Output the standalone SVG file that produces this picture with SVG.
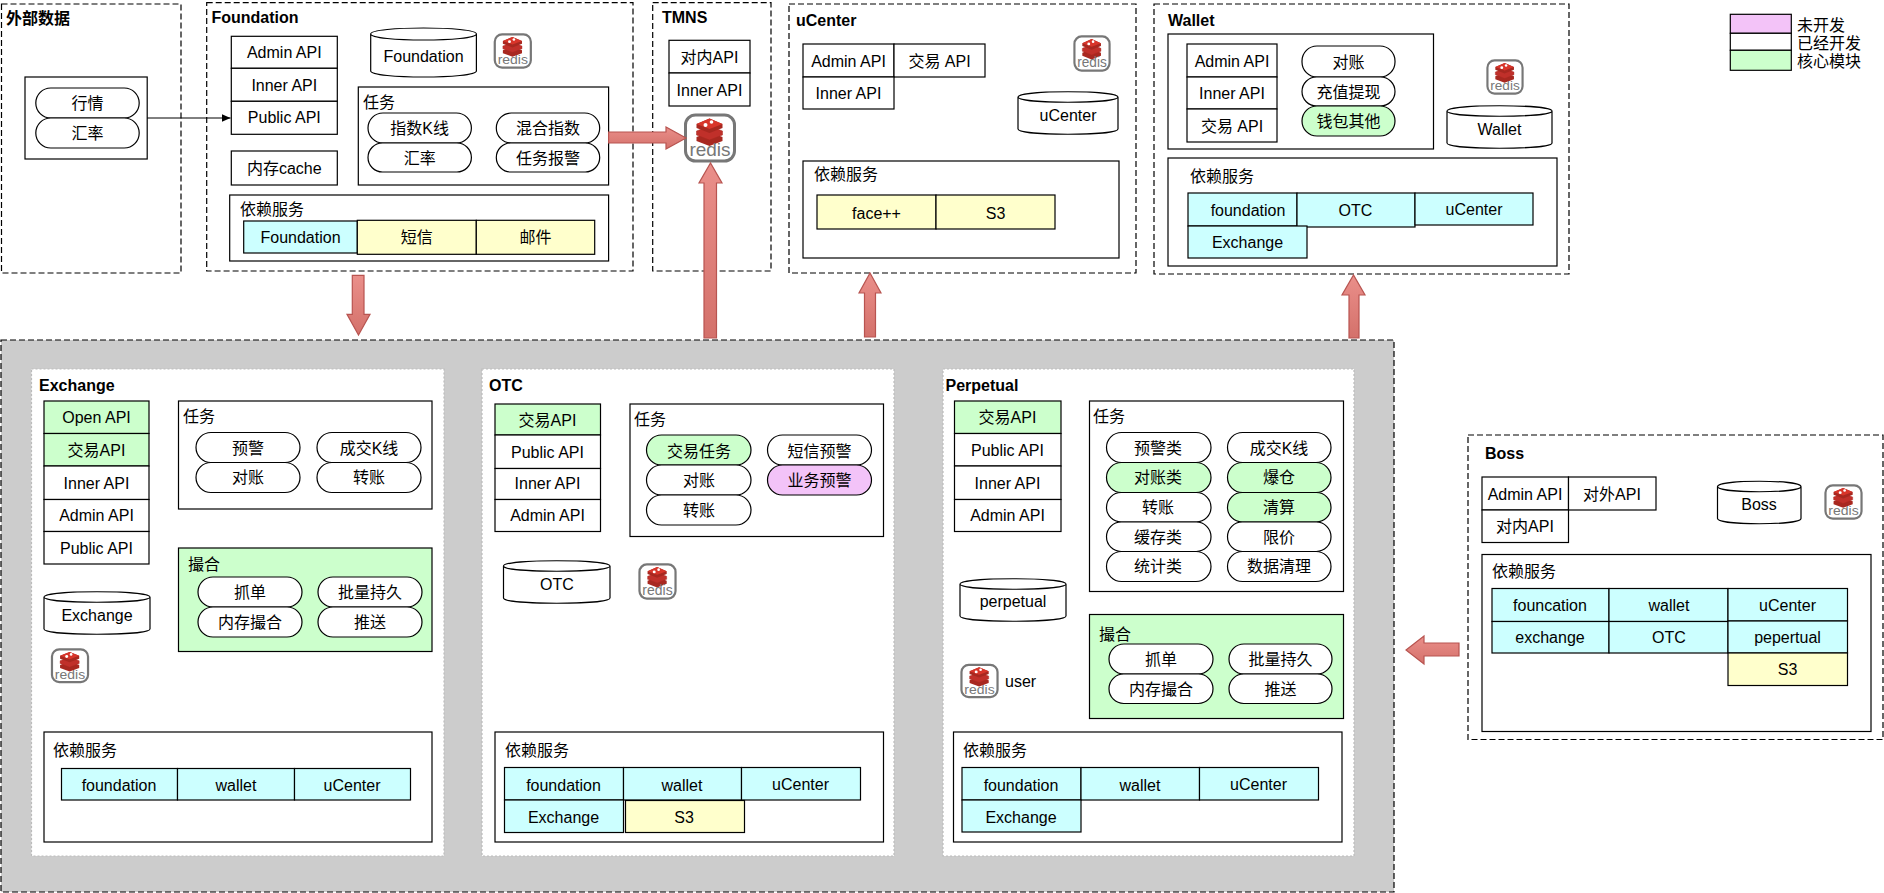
<svg xmlns="http://www.w3.org/2000/svg" xmlns:xlink="http://www.w3.org/1999/xlink" width="1884" height="893" viewBox="0 0 1884 893">
<style>
text{font-family:"Liberation Sans","Noto Sans CJK SC",sans-serif;font-size:16px;fill:#000;dominant-baseline:central}
.m{text-anchor:middle}
.h{font-weight:bold}
rect,.db{stroke:#000;stroke-width:1.2;fill:#fff}
.g{fill:#ccffcc}.c{fill:#ccffff}.y{fill:#ffffcc}.p{fill:#f3c3f8}
.d{stroke-dasharray:6 3;fill:#fff}
.gray{fill:#ccc}
.panel{fill:#fff;stroke:#bbb;stroke-dasharray:2 2}
.arrow{fill:url(#ag);stroke:#b85450;stroke-width:1.2}
.thin{fill:none;stroke:#000;stroke-width:1;marker-end:url(#tri)}
.rt{font-size:19px;fill:#777;dominant-baseline:auto;text-anchor:middle}
.ri{fill:#fff;stroke:#777;stroke-width:3}
</style>
<defs>
<linearGradient id="ag" x1="0" y1="0" x2="0" y2="1"><stop offset="0" stop-color="#ea8f8a"/><stop offset="1" stop-color="#d4716b"/></linearGradient>
<marker id="tri" markerWidth="10" markerHeight="10" refX="9" refY="4" orient="auto" markerUnits="userSpaceOnUse"><path d="M0 0L9 4L0 8z" fill="#000"/></marker>
<g id="redis-art">
<rect class="ri" x="2" y="2" width="49" height="46" rx="10"/>
<path d="M13 24l13-5 13 5v4l-13 5-13-5z" fill="#a82820" stroke="none"/>
<path d="M13 18l13-5 13 5v4l-13 5-13-5z" fill="#c0302a" stroke="#a82820" stroke-width=".5"/>
<path d="M13 11l13-5.500 13 5.500v4l-13 5-13-5z" fill="#a82820" stroke="none"/>
<path d="M13 11l13-5.500 13 5.500-13 5z" fill="#d8352a" stroke="none"/>
<circle cx="28" cy="9" r="1.800" fill="#fff"/><circle cx="22" cy="12" r="2" fill="#fff"/>
</g>
</defs>

<g id="bg-external"><rect class="d" x="1.500" y="4" width="179.500" height="269"/><text class="h" x="6" y="18">外部数据</text></g>
<g id="external-inner"><rect x="25" y="77" width="122.200" height="82"/></g>
<g id="ext-market"><rect x="35.800" y="88" width="103.400" height="30" rx="15"/><text class="m" x="87.500" y="103">行情</text></g>
<g id="ext-rate"><rect x="35.800" y="118" width="103.400" height="30" rx="15"/><text class="m" x="87.500" y="133">汇率</text></g>

<g id="foundation"><rect class="d" x="206.700" y="2.700" width="426.300" height="268.300"/><text class="h" x="211.500" y="17.500">Foundation</text></g>
<g id="f-admin"><rect x="231.300" y="36.300" width="106" height="32"/><text class="m" x="284.300" y="52">Admin API</text></g>
<g id="f-inner"><rect x="231.300" y="68.300" width="106" height="33"/><text class="m" x="284.300" y="85">Inner API</text></g>
<g id="f-public"><rect x="231.300" y="101.300" width="106" height="33"/><text class="m" x="284.300" y="117">Public API</text></g>
<g id="f-db"><path class="db" d="M370.700 34c0-8 105.700-8 105.700 0v37c0 8-105.700 8-105.700 0zM370.700 34c0 8 105.700 8 105.700 0"/><text class="m" x="423.500" y="56">Foundation</text></g>
<g id="f-redis" transform="translate(493.300 33) scale(.736 .72)"><use href="#redis-art"/><text class="rt" x="26.500" y="43">redis</text></g>
<g id="f-tasks"><rect x="358.300" y="87" width="250.300" height="98"/><text x="363" y="102">任务</text></g>
<g id="f-t1"><rect x="368" y="113" width="103.400" height="30" rx="15"/><text class="m" x="419.700" y="128">指数K线</text></g>
<g id="f-t2"><rect x="368" y="143" width="103.400" height="29" rx="14.500"/><text class="m" x="419.700" y="158">汇率</text></g>
<g id="f-t3"><rect x="496.300" y="113" width="103.400" height="30" rx="15"/><text class="m" x="548" y="128">混合指数</text></g>
<g id="f-t4"><rect x="496.300" y="143" width="103.400" height="29" rx="14.500"/><text class="m" x="548" y="158">任务报警</text></g>
<g id="f-cache"><rect x="231.300" y="151" width="106" height="34"/><text class="m" x="284.300" y="168">内存cache</text></g>
<g id="f-dep"><rect x="229.700" y="195" width="378.900" height="66"/><text x="240" y="209">依赖服务</text></g>
<g id="f-dep1"><rect class="c" x="243.700" y="221" width="113.600" height="32"/><text class="m" x="300.500" y="237">Foundation</text></g>
<g id="f-dep2"><rect class="y" x="357.300" y="220.300" width="119" height="34"/><text class="m" x="416.800" y="237">短信</text></g>
<g id="f-dep3"><rect class="y" x="476.300" y="220.300" width="118.400" height="34"/><text class="m" x="535.500" y="237">邮件</text></g>

<g id="tmns"><rect class="d" x="652.700" y="2.700" width="118.300" height="268.300"/><text class="h" x="662" y="17.500">TMNS</text></g>
<g id="t-inner-cn"><rect x="669" y="40.300" width="81" height="32.700"/><text class="m" x="709.500" y="57">对内API</text></g>
<g id="t-inner"><rect x="669" y="73" width="81" height="33"/><text class="m" x="709.500" y="90">Inner API</text></g>
<g id="t-redis" transform="translate(683.500 113)"><use href="#redis-art"/><text class="rt" x="26.500" y="43">redis</text></g>

<g id="ucenter"><rect class="d" x="789" y="4" width="347" height="269"/><text class="h" x="796" y="20">uCenter</text></g>
<g id="u-admin"><rect x="803" y="44" width="91" height="33"/><text class="m" x="848.500" y="61">Admin API</text></g>
<g id="u-trade"><rect x="894" y="44" width="91" height="33"/><text class="m" x="939.500" y="61">交易 API</text></g>
<g id="u-inner"><rect x="803" y="77" width="91" height="32"/><text class="m" x="848.500" y="93">Inner API</text></g>
<g id="u-redis" transform="translate(1073 35) scale(.717 .74)"><use href="#redis-art"/><text class="rt" x="26.500" y="43">redis</text></g>
<g id="u-db"><path class="db" d="M1018 97c0-7 100-7 100 0v32c0 7-100 7-100 0zM1018 97c0 7 100 7 100 0"/><text class="m" x="1068" y="115">uCenter</text></g>
<g id="u-dep"><rect x="803" y="161" width="316" height="97"/><text x="814" y="174">依赖服务</text></g>
<g id="u-face"><rect class="y" x="817" y="195" width="119" height="34"/><text class="m" x="876.500" y="213">face++</text></g>
<g id="u-s3"><rect class="y" x="936" y="195" width="119" height="34"/><text class="m" x="995.500" y="213">S3</text></g>

<g id="wallet"><rect class="d" x="1154" y="4" width="415" height="270"/><text class="h" x="1168" y="20">Wallet</text></g>
<g id="w-inner"><rect x="1168" y="34" width="265.500" height="115"/></g>
<g id="w-admin"><rect x="1187" y="44" width="90" height="33"/><text class="m" x="1232" y="61">Admin API</text></g>
<g id="w-in"><rect x="1187" y="77" width="90" height="32"/><text class="m" x="1232" y="93">Inner API</text></g>
<g id="w-trade"><rect x="1187" y="109" width="90" height="33"/><text class="m" x="1232" y="126">交易 API</text></g>
<g id="w-t1"><rect x="1302" y="46" width="93" height="31" rx="15"/><text class="m" x="1348.500" y="62">对账</text></g>
<g id="w-t2"><rect x="1302" y="77" width="93" height="29" rx="14.500"/><text class="m" x="1348.500" y="92">充值提现</text></g>
<g id="w-t3"><rect class="g" x="1302" y="106" width="93" height="30" rx="15"/><text class="m" x="1348.500" y="121">钱包其他</text></g>
<g id="w-redis" transform="translate(1486 59) scale(.717 .72)"><use href="#redis-art"/><text class="rt" x="26.500" y="43">redis</text></g>
<g id="w-db"><path class="db" d="M1447 111c0-7 105-7 105 0v32c0 7-105 7-105 0zM1447 111c0 7 105 7 105 0"/><text class="m" x="1499.500" y="129">Wallet</text></g>
<g id="w-dep"><rect x="1168" y="158" width="389" height="108"/><text x="1190" y="176">依赖服务</text></g>
<g id="w-d1"><rect class="c" x="1188" y="193" width="109" height="33"/><text class="m" x="1248" y="210">foundation</text></g>
<g id="w-d2"><rect class="c" x="1297" y="193" width="118" height="34"/><text class="m" x="1355.500" y="210">OTC</text></g>
<g id="w-d3"><rect class="c" x="1415" y="193" width="118" height="32"/><text class="m" x="1474" y="209">uCenter</text></g>
<g id="w-d4"><rect class="c" x="1188" y="226" width="119" height="32"/><text class="m" x="1247.500" y="242">Exchange</text></g>

<g id="legend-dev"><rect class="p" x="1730.300" y="14.300" width="61" height="19"/><text x="1797" y="25">未开发</text></g>
<g id="legend-done"><rect x="1730.300" y="33.300" width="61" height="17"/><text x="1797" y="43">已经开发</text></g>
<g id="legend-core"><rect class="g" x="1730.300" y="50.300" width="61" height="20"/><text x="1797" y="61.500">核心模块</text></g>

<g id="core-group"><rect class="gray d" style="fill:#ccc" x="1" y="340" width="1393" height="552"/></g>

<g id="exchange"><rect class="panel" style="stroke:#bbb" x="31.500" y="369" width="412.500" height="487"/><text class="h" x="39" y="385">Exchange</text></g>
<g id="e-a1"><rect class="g" x="44" y="401" width="105" height="32.500"/><text class="m" x="96.500" y="417">Open API</text></g>
<g id="e-a2"><rect class="g" x="44" y="433.500" width="105" height="32.500"/><text class="m" x="96.500" y="450">交易API</text></g>
<g id="e-a3"><rect x="44" y="466" width="105" height="33.500"/><text class="m" x="96.500" y="483">Inner API</text></g>
<g id="e-a4"><rect x="44" y="499.500" width="105" height="32"/><text class="m" x="96.500" y="515">Admin API</text></g>
<g id="e-a5"><rect x="44" y="531.500" width="105" height="32.500"/><text class="m" x="96.500" y="548">Public API</text></g>
<g id="e-tasks"><rect x="178.500" y="401" width="253.500" height="108"/><text x="183" y="416">任务</text></g>
<g id="e-t1"><rect x="196" y="432.500" width="104" height="30" rx="15"/><text class="m" x="248" y="448">预警</text></g>
<g id="e-t2"><rect x="196" y="462.500" width="104" height="30" rx="15"/><text class="m" x="248" y="477">对账</text></g>
<g id="e-t3"><rect x="317" y="432.500" width="104" height="30" rx="15"/><text class="m" x="369" y="448">成交K线</text></g>
<g id="e-t4"><rect x="317" y="462.500" width="104" height="30" rx="15"/><text class="m" x="369" y="477">转账</text></g>
<g id="e-match"><rect class="g" x="178.500" y="548" width="253.500" height="103.500"/><text x="188" y="564">撮合</text></g>
<g id="e-m1"><rect x="198" y="577" width="104" height="30" rx="15"/><text class="m" x="250" y="592">抓单</text></g>
<g id="e-m2"><rect x="198" y="607" width="104" height="30" rx="15"/><text class="m" x="250" y="622">内存撮合</text></g>
<g id="e-m3"><rect x="318" y="577" width="104" height="30" rx="15"/><text class="m" x="370" y="592">批量持久</text></g>
<g id="e-m4"><rect x="318" y="607" width="104" height="30" rx="15"/><text class="m" x="370" y="622">推送</text></g>
<g id="e-db"><path class="db" d="M44 597c0-7 106-7 106 0v32c0 7-106 7-106 0zM44 597c0 7 106 7 106 0"/><text class="m" x="97" y="615">Exchange</text></g>
<g id="e-redis" transform="translate(50.500 648) scale(.736 .71)"><use href="#redis-art"/><text class="rt" x="26.500" y="43">redis</text></g>
<g id="e-dep"><rect x="44" y="732" width="388" height="110"/><text x="53" y="750">依赖服务</text></g>
<g id="e-d1"><rect class="c" x="61.500" y="768.500" width="116" height="31.500"/><text class="m" x="119" y="785">foundation</text></g>
<g id="e-d2"><rect class="c" x="177.500" y="768.500" width="117" height="31.500"/><text class="m" x="236" y="785">wallet</text></g>
<g id="e-d3"><rect class="c" x="294.500" y="768.500" width="116" height="31.500"/><text class="m" x="352" y="785">uCenter</text></g>

<g id="otc"><rect class="panel" style="stroke:#bbb" x="482" y="369" width="412" height="487"/><text class="h" x="489" y="385">OTC</text></g>
<g id="o-a1"><rect class="g" x="495" y="404" width="105.500" height="31"/><text class="m" x="547.500" y="420">交易API</text></g>
<g id="o-a2"><rect x="495" y="435" width="105.500" height="33.500"/><text class="m" x="547.500" y="452">Public API</text></g>
<g id="o-a3"><rect x="495" y="468.500" width="105.500" height="31"/><text class="m" x="547.500" y="483">Inner API</text></g>
<g id="o-a4"><rect x="495" y="499.500" width="105.500" height="32"/><text class="m" x="547.500" y="515">Admin API</text></g>
<g id="o-tasks"><rect x="630" y="404" width="253.500" height="132.500"/><text x="634" y="419">任务</text></g>
<g id="o-t1"><rect class="g" x="646.500" y="435" width="104.500" height="30" rx="15"/><text class="m" x="699" y="451">交易任务</text></g>
<g id="o-t2"><rect x="646.500" y="465" width="104.500" height="30" rx="15"/><text class="m" x="699" y="480">对账</text></g>
<g id="o-t3"><rect x="646.500" y="495" width="104.500" height="30" rx="15"/><text class="m" x="699" y="510">转账</text></g>
<g id="o-t4"><rect x="767.500" y="435" width="104" height="30" rx="15"/><text class="m" x="819.500" y="451">短信预警</text></g>
<g id="o-t5"><rect class="p" x="767.500" y="465" width="104" height="30" rx="15"/><text class="m" x="819.500" y="480">业务预警</text></g>
<g id="o-db"><path class="db" d="M503.500 566c0-7 106.500-7 106.500 0v32c0 7-106.500 7-106.500 0zM503.500 566c0 7 106.500 7 106.500 0"/><text class="m" x="557" y="584">OTC</text></g>
<g id="o-redis" transform="translate(638 563) scale(.736 .74)"><use href="#redis-art"/><text class="rt" x="26.500" y="43">redis</text></g>
<g id="o-dep"><rect x="495" y="732" width="388.500" height="110"/><text x="505" y="750">依赖服务</text></g>
<g id="o-d1"><rect class="c" x="504.500" y="767.500" width="119" height="32.500"/><text class="m" x="563.500" y="785">foundation</text></g>
<g id="o-d2"><rect class="c" x="623.500" y="767.500" width="118" height="32.500"/><text class="m" x="682" y="785">wallet</text></g>
<g id="o-d3"><rect class="c" x="741.500" y="767.500" width="119" height="32.500"/><text class="m" x="800.500" y="784">uCenter</text></g>
<g id="o-d4"><rect class="c" x="504.500" y="800" width="119" height="32.500"/><text class="m" x="563.500" y="817">Exchange</text></g>
<g id="o-d5"><rect class="y" x="625.500" y="800.500" width="119" height="32"/><text class="m" x="684" y="817">S3</text></g>

<g id="perpetual"><rect class="panel" style="stroke:#bbb" x="943" y="369" width="411" height="487"/><text class="h" x="945.500" y="385">Perpetual</text></g>
<g id="p-a1"><rect class="g" x="954.500" y="401" width="106.500" height="32.500"/><text class="m" x="1007.500" y="417">交易API</text></g>
<g id="p-a2"><rect x="954.500" y="433.500" width="106.500" height="32.500"/><text class="m" x="1007.500" y="450">Public API</text></g>
<g id="p-a3"><rect x="954.500" y="466" width="106.500" height="33.500"/><text class="m" x="1007.500" y="483">Inner API</text></g>
<g id="p-a4"><rect x="954.500" y="499.500" width="106.500" height="32"/><text class="m" x="1007.500" y="515">Admin API</text></g>
<g id="p-tasks"><rect x="1089.500" y="401" width="254" height="190.500"/><text x="1093" y="416">任务</text></g>
<g id="p-t1"><rect x="1106.500" y="432.500" width="104.500" height="30" rx="15"/><text class="m" x="1158" y="448">预警类</text></g>
<g id="p-t2"><rect class="g" x="1106.500" y="462.500" width="104.500" height="30" rx="15"/><text class="m" x="1158" y="477">对账类</text></g>
<g id="p-t3"><rect x="1106.500" y="492.500" width="104.500" height="29.500" rx="14.700"/><text class="m" x="1158" y="507">转账</text></g>
<g id="p-t4"><rect x="1106.500" y="522" width="104.500" height="29.500" rx="14.700"/><text class="m" x="1158" y="537">缓存类</text></g>
<g id="p-t5"><rect x="1106.500" y="551.500" width="104.500" height="30" rx="15"/><text class="m" x="1158" y="566">统计类</text></g>
<g id="p-t6"><rect x="1227.500" y="432.500" width="103.500" height="30" rx="15"/><text class="m" x="1279" y="448">成交K线</text></g>
<g id="p-t7"><rect class="g" x="1227.500" y="462.500" width="103.500" height="30" rx="15"/><text class="m" x="1279" y="477">爆仓</text></g>
<g id="p-t8"><rect class="g" x="1227.500" y="492.500" width="103.500" height="29.500" rx="14.700"/><text class="m" x="1279" y="507">清算</text></g>
<g id="p-t9"><rect x="1227.500" y="522" width="103.500" height="29.500" rx="14.700"/><text class="m" x="1279" y="537">限价</text></g>
<g id="p-t10"><rect x="1227.500" y="551.500" width="103.500" height="30" rx="15"/><text class="m" x="1279" y="566">数据清理</text></g>
<g id="p-db"><path class="db" d="M960 584c0-7 106-7 106 0v32c0 7-106 7-106 0zM960 584c0 7 106 7 106 0"/><text class="m" x="1013" y="601">perpetual</text></g>
<g id="p-match"><rect class="g" x="1089.500" y="614.500" width="254" height="104"/><text x="1099" y="634">撮合</text></g>
<g id="p-m1"><rect x="1109" y="644" width="104" height="30" rx="15"/><text class="m" x="1161" y="659">抓单</text></g>
<g id="p-m2"><rect x="1109" y="674" width="104" height="29.500" rx="14.700"/><text class="m" x="1161" y="689">内存撮合</text></g>
<g id="p-m3"><rect x="1229" y="644" width="103" height="30" rx="15"/><text class="m" x="1280.500" y="659">批量持久</text></g>
<g id="p-m4"><rect x="1229" y="674" width="103" height="29.500" rx="14.700"/><text class="m" x="1280.500" y="689">推送</text></g>
<g id="p-redis" transform="translate(960 663.500) scale(.736 .7)"><use href="#redis-art"/><text class="rt" x="26.500" y="43">redis</text></g>
<g id="p-user"><text x="1005" y="681">user</text></g>
<g id="p-dep"><rect x="953.500" y="732" width="388.500" height="110"/><text x="963" y="750">依赖服务</text></g>
<g id="p-d1"><rect class="c" x="962" y="767.500" width="119" height="32.500"/><text class="m" x="1021" y="785">foundation</text></g>
<g id="p-d2"><rect class="c" x="1081" y="767.500" width="118.500" height="32.500"/><text class="m" x="1140" y="785">wallet</text></g>
<g id="p-d3"><rect class="c" x="1199.500" y="767.500" width="119" height="32.500"/><text class="m" x="1258.500" y="784">uCenter</text></g>
<g id="p-d4"><rect class="c" x="962" y="800" width="119" height="32"/><text class="m" x="1021" y="817">Exchange</text></g>

<g id="boss"><rect class="d" x="1468" y="435" width="415" height="304.500"/><text class="h" x="1485" y="453">Boss</text></g>
<g id="b-admin"><rect x="1482" y="477" width="86.500" height="33"/><text class="m" x="1525" y="494">Admin API</text></g>
<g id="b-out"><rect x="1568.500" y="477" width="87.500" height="33"/><text class="m" x="1612" y="494">对外API</text></g>
<g id="b-in"><rect x="1482" y="510" width="86.500" height="32.500"/><text class="m" x="1525" y="526">对内API</text></g>
<g id="b-db"><path class="db" d="M1717.500 486.500c0-7 83.500-7 83.500 0v32c0 7-83.500 7-83.500 0zM1717.500 486.500c0 7 83.500 7 83.500 0"/><text class="m" x="1759" y="504">Boss</text></g>
<g id="b-redis" transform="translate(1824 484) scale(.736 .72)"><use href="#redis-art"/><text class="rt" x="26.500" y="43">redis</text></g>
<g id="b-dep"><rect x="1482" y="554.500" width="389" height="177"/><text x="1492" y="571">依赖服务</text></g>
<g id="b-d1"><rect class="c" x="1492" y="588.500" width="117" height="33"/><text class="m" x="1550" y="605">founcation</text></g>
<g id="b-d2"><rect class="c" x="1609" y="588.500" width="119" height="33"/><text class="m" x="1669" y="605">wallet</text></g>
<g id="b-d3"><rect class="c" x="1728" y="588.500" width="119.500" height="32.500"/><text class="m" x="1787.500" y="605">uCenter</text></g>
<g id="b-d4"><rect class="c" x="1492" y="621.500" width="117" height="31.500"/><text class="m" x="1550" y="637">exchange</text></g>
<g id="b-d5"><rect class="c" x="1609" y="621.500" width="119" height="31.500"/><text class="m" x="1669" y="637">OTC</text></g>
<g id="b-d6"><rect class="c" x="1728" y="621" width="119.500" height="32"/><text class="m" x="1787.500" y="637">pepertual</text></g>
<g id="b-d7"><rect class="y" x="1728" y="653" width="119.500" height="32.500"/><text class="m" x="1787.500" y="669">S3</text></g>

<g id="connectors">
<path class="thin" d="M147.200 118H230.500"/>
<path class="arrow" d="M608.600 132H666V127L686 138L666 149V143H608.600z"/>
<path class="arrow" d="M704 338V183H699L710.500 163L722 183H716.500V338z"/>
<path class="arrow" d="M352.300 275.300H364V314.300H370L358.500 335L347 314.300H352.300z"/>
<path class="arrow" d="M864.500 337V293H859L870 273L881 293H875.500V337z"/>
<path class="arrow" d="M1349 338V295H1342L1353.500 275L1365 295H1359V338z"/>
<path class="arrow" d="M1459 643H1424V636L1406 650L1424 664V656H1459z"/>
</g>
</svg>
